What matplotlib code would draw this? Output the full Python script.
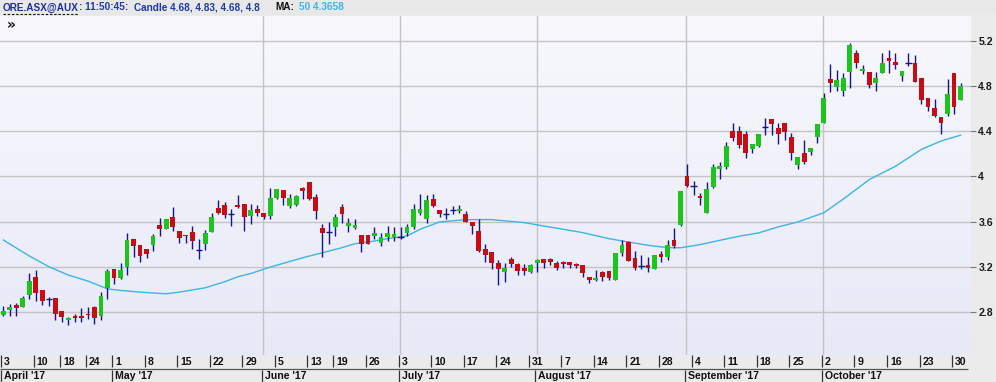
import numpy as np
import matplotlib
matplotlib.use('Agg')
import matplotlib.pyplot as plt
from matplotlib.colors import LinearSegmentedColormap
from matplotlib.lines import Line2D
from matplotlib.patches import Rectangle

# ---------------- data (ORE.ASX daily candles, 3 Apr - 31 Oct 2017) ----------------
opens = [2.770, 2.815, 2.860, 2.847, 2.948, 3.111, 2.990, 2.910, 2.920, 2.810,
         2.726, 2.767, 2.767, 2.780, 2.840, 2.760, 3.013, 3.176, 3.096, 3.200,
         3.443, 3.390, 3.354, 3.393, 3.567, 3.532, 3.641, 3.517, 3.480, 3.510,
         3.345, 3.404, 3.511, 3.720, 3.745, 3.665, 3.745, 3.754, 3.650, 3.710,
         3.680, 3.650, 3.813, 3.878, 3.739, 3.745, 3.896, 3.947, 3.820, 3.547,
         3.508, 3.553, 3.730, 3.561, 3.540, 3.478, 3.478, 3.473, 3.413, 3.466,
         3.464, 3.466, 3.502, 3.556, 3.674, 3.620, 3.804, 3.707, 3.665, 3.704,
         3.692, 3.668, 3.600, 3.517, 3.360, 3.333, 3.236, 3.156, 3.265, 3.221,
         3.191, 3.153, 3.236, 3.265, 3.265, 3.236, 3.244, 3.244, 3.220, 3.212,
         3.108, 3.080, 3.156, 3.162, 3.079, 3.318, 3.419, 3.274, 3.206, 3.212,
         3.182, 3.310, 3.286, 3.434, 3.570, 4.000, 3.914, 3.825, 3.678, 3.905,
         4.068, 4.083, 4.402, 4.402, 4.373, 4.240, 4.270, 4.440, 4.506, 4.432,
         4.470, 4.352, 4.098, 4.204, 4.216, 4.349, 4.476, 4.861, 4.793, 4.757,
         4.926, 5.098, 4.935, 4.929, 4.825, 4.920, 5.047, 5.018, 4.890, 5.003,
         5.003, 4.876, 4.698, 4.609, 4.530, 4.550, 4.916, 4.680]
highs = [2.856, 2.874, 2.880, 2.940, 3.147, 3.167, 2.990, 2.933, 2.920, 2.810,
         2.755, 2.780, 2.836, 2.840, 2.856, 2.975, 3.180, 3.176, 3.235, 3.502,
         3.443, 3.390, 3.354, 3.487, 3.636, 3.627, 3.733, 3.517, 3.480, 3.561,
         3.443, 3.530, 3.680, 3.790, 3.775, 3.716, 3.834, 3.754, 3.754, 3.745,
         3.680, 3.902, 3.893, 3.878, 3.843, 3.834, 3.908, 3.953, 3.843, 3.576,
         3.600, 3.665, 3.754, 3.630, 3.620, 3.478, 3.478, 3.556, 3.502, 3.561,
         3.556, 3.556, 3.576, 3.760, 3.843, 3.837, 3.843, 3.707, 3.720, 3.740,
         3.748, 3.697, 3.600, 3.627, 3.405, 3.333, 3.256, 3.236, 3.286, 3.236,
         3.221, 3.221, 3.265, 3.265, 3.274, 3.250, 3.250, 3.244, 3.230, 3.212,
         3.108, 3.170, 3.162, 3.162, 3.324, 3.437, 3.428, 3.340, 3.300, 3.289,
         3.300, 3.339, 3.434, 3.547, 3.873, 4.107, 3.959, 3.855, 3.950, 4.107,
         4.130, 4.308, 4.476, 4.447, 4.402, 4.290, 4.380, 4.520, 4.506, 4.476,
         4.476, 4.388, 4.172, 4.320, 4.249, 4.467, 4.743, 4.994, 4.940, 4.920,
         5.186, 5.121, 4.988, 4.929, 4.926, 5.098, 5.121, 5.098, 4.935, 5.092,
         5.074, 4.876, 4.698, 4.689, 4.530, 4.862, 4.916, 4.830]
lows = [2.760, 2.767, 2.760, 2.840, 2.918, 2.900, 2.860, 2.850, 2.730, 2.710,
        2.680, 2.710, 2.710, 2.740, 2.696, 2.726, 2.916, 3.043, 3.090, 3.126,
        3.286, 3.244, 3.277, 3.340, 3.473, 3.532, 3.517, 3.413, 3.407, 3.354,
        3.265, 3.345, 3.511, 3.668, 3.636, 3.560, 3.724, 3.517, 3.582, 3.650,
        3.627, 3.627, 3.804, 3.748, 3.724, 3.740, 3.804, 3.793, 3.620, 3.289,
        3.400, 3.473, 3.585, 3.510, 3.538, 3.330, 3.400, 3.443, 3.384, 3.428,
        3.428, 3.443, 3.473, 3.532, 3.656, 3.590, 3.730, 3.644, 3.627, 3.665,
        3.680, 3.600, 3.490, 3.330, 3.241, 3.182, 3.034, 3.064, 3.200, 3.126,
        3.126, 3.141, 3.156, 3.191, 3.212, 3.170, 3.191, 3.191, 3.190, 3.111,
        3.052, 3.073, 3.073, 3.079, 3.079, 3.295, 3.250, 3.170, 3.176, 3.153,
        3.176, 3.241, 3.259, 3.369, 3.561, 3.905, 3.834, 3.750, 3.678, 3.900,
        3.980, 4.068, 4.314, 4.254, 4.166, 4.204, 4.260, 4.364, 4.364, 4.284,
        4.320, 4.145, 4.068, 4.107, 4.189, 4.299, 4.470, 4.749, 4.757, 4.713,
        4.787, 4.964, 4.911, 4.781, 4.757, 4.920, 4.920, 4.956, 4.846, 4.980,
        4.837, 4.639, 4.580, 4.530, 4.373, 4.540, 4.557, 4.680]
closes = [2.812, 2.847, 2.830, 2.924, 3.078, 2.966, 2.895, 2.910, 2.780, 2.755,
          2.750, 2.744, 2.744, 2.770, 2.747, 2.945, 3.158, 3.096, 3.167, 3.434,
          3.384, 3.295, 3.313, 3.473, 3.532, 3.620, 3.553, 3.452, 3.470, 3.428,
          3.345, 3.500, 3.644, 3.674, 3.660, 3.665, 3.730, 3.644, 3.700, 3.674,
          3.644, 3.813, 3.887, 3.813, 3.807, 3.828, 3.873, 3.798, 3.695, 3.496,
          3.508, 3.641, 3.665, 3.585, 3.570, 3.404, 3.404, 3.496, 3.466, 3.502,
          3.487, 3.466, 3.556, 3.716, 3.710, 3.790, 3.739, 3.670, 3.665, 3.704,
          3.716, 3.600, 3.561, 3.339, 3.305, 3.236, 3.182, 3.191, 3.221, 3.162,
          3.162, 3.212, 3.256, 3.236, 3.241, 3.191, 3.227, 3.218, 3.206, 3.147,
          3.080, 3.096, 3.108, 3.096, 3.318, 3.390, 3.250, 3.191, 3.206, 3.191,
          3.300, 3.289, 3.390, 3.384, 3.867, 3.914, 3.914, 3.805, 3.893, 4.083,
          4.092, 4.270, 4.337, 4.278, 4.210, 4.290, 4.373, 4.440, 4.462, 4.373,
          4.393, 4.204, 4.172, 4.127, 4.249, 4.467, 4.698, 4.831, 4.852, 4.870,
          5.163, 5.009, 4.950, 4.810, 4.876, 5.003, 5.024, 4.985, 4.935, 5.003,
          4.837, 4.678, 4.618, 4.536, 4.470, 4.729, 4.620, 4.800]

# 50-period moving average at selected candles
ma_idx = [0, 4, 7, 10, 13, 16, 18, 21, 25, 27, 31, 34, 36, 38, 41, 46, 49, 52,
          54, 57, 59, 62, 64, 67, 70, 72, 75, 76, 80, 83, 86, 89, 93, 96, 99,
          102, 104, 107, 110, 113, 116, 119, 122, 126, 129, 133, 137, 141, 144, 147]
ma_val = [3.437, 3.295, 3.200, 3.126, 3.073, 3.004, 2.990, 2.975, 2.960, 2.975,
          3.013, 3.067, 3.111, 3.140, 3.197, 3.280, 3.324, 3.369, 3.404, 3.428,
          3.449, 3.473, 3.532, 3.597, 3.612, 3.618, 3.618, 3.612, 3.591, 3.561,
          3.532, 3.502, 3.449, 3.419, 3.390, 3.369, 3.368, 3.396, 3.434, 3.470,
          3.500, 3.553, 3.597, 3.678, 3.800, 3.973, 4.090, 4.240, 4.314, 4.366]

# x-axis labels (first trading day of each week / month, as candle index)
week_idx = [0, 5, 9, 13, 17, 22, 27, 32, 37, 42, 47, 51, 56, 61, 66, 71, 76, 81,
            86, 91, 96, 101, 106, 111, 116, 121, 126, 131, 136, 141, 146]
week_lbl = ['3', '10', '18', '24', '1', '8', '15', '22', '29', '5', '13', '19',
            '26', '3', '10', '17', '24', '31', '7', '14', '21', '28', '4', '11',
            '18', '25', '2', '9', '16', '23', '30']
month_idx = [0, 17, 40, 61, 82, 105, 126]
month_lbl = ["April '17", "May '17", "June '17", "July '17", "August '17",
             "September '17", "October '17"]
grid_months = [40, 61, 82, 105, 126]
price_ticks = [2.8, 3.2, 3.6, 4.0, 4.4, 4.8, 5.2]
price_lbls = ['2.8', '3.2', '3.6', '4', '4.4', '4.8', '5.2']

# ---------------- figure ----------------
W, H = 996, 382
FONT = 'Liberation Sans'
fig = plt.figure(figsize=(W / 100, H / 100), dpi=100, facecolor='#ebebeb')

PX0, PX1, PY_TOP, PY_BOT = 0, 970, 16, 355
STEP, C0 = 6.512, 3.3          # pixels per candle, centre of first candle
PPU = 112.5                    # pixels per price unit
xlim = ((PX0 - C0) / STEP, (PX1 - C0) / STEP)
ylim = (2.8 - (PY_BOT - 312) / PPU, 5.2 + (41 - PY_TOP) / PPU)

ax = fig.add_axes([PX0 / W, 1 - PY_BOT / H, (PX1 - PX0) / W, (PY_BOT - PY_TOP) / H])
cmap = LinearSegmentedColormap.from_list('bg', ['#e7e9f7', '#f8f8fd'])
ax.imshow(np.linspace(0, 1, 256).reshape(-1, 1)[::-1], extent=(0, 1, 0, 1),
          transform=ax.transAxes, cmap=cmap, aspect='auto', zorder=0)

for p in price_ticks:
    ax.axhline(p, color='#c4c4c4', lw=1.0, zorder=1)
for m in grid_months:
    ax.axvline(m - 0.12, color='#c4c4c4', lw=1.0, zorder=1)

ax.plot(ma_idx, ma_val, color='#3db5e6', lw=1.0, zorder=2)

O = np.array(opens); Hh = np.array(highs); L = np.array(lows); C = np.array(closes)
x = np.arange(len(O))
ax.vlines(x, L, Hh, color='#15158a', lw=1.0, zorder=3)
doji = np.isclose(O, C)
up = (C > O) & ~doji
dn = (C < O) & ~doji
bw = 0.74
bh = np.maximum(np.abs(C - O), 0.012)
ax.bar(x[up], bh[up], bottom=np.minimum(O, C)[up], width=bw, color='#1ec41e',
       edgecolor='none', zorder=4)
ax.bar(x[dn], bh[dn], bottom=np.minimum(O, C)[dn], width=bw, color='#c80c14',
       edgecolor='none', zorder=4)
ax.hlines(O[doji], x[doji] - 0.48, x[doji] + 0.48, color='#15158a', lw=1.0, zorder=4)

ax.set_xlim(*xlim)
ax.set_ylim(*ylim)
ax.set_xticks([])
ax.yaxis.tick_right()
ax.set_yticks(price_ticks)
ax.set_yticklabels(price_lbls, fontfamily=FONT, fontweight='bold')
ax.tick_params(axis='y', length=4, width=0.8, color='#777777', pad=2,
               labelsize=7.6, labelcolor='#1a1a1a')
for s in ax.spines.values():
    s.set_visible(False)

# ---------------- bottom date band ----------------
ax2 = fig.add_axes([PX0 / W, 0, (PX1 - PX0) / W, (H - PY_BOT) / H])
ax2.set_xlim(*xlim)
ax2.set_ylim(H - PY_BOT, 0)
ax2.axis('off')
ax2.vlines(np.array(week_idx) - 0.3, 0, 12, color='#333333', lw=0.9)
for i, t in zip(week_idx, week_lbl):
    ax2.text(i - 0.3 + 0.45, 7.2, t, va='center', ha='left', fontsize=7.6,
             fontweight='bold', fontfamily=FONT, color='#111111')
ax2.hlines(13.5, xlim[0], (968 - C0) / STEP, color='#555555', lw=0.9)
ax2.vlines(np.array(month_idx) - 0.3, 14.5, H - PY_BOT, color='#333333', lw=0.9)
for i, t in zip(month_idx, month_lbl):
    ax2.text(i - 0.3 + 0.45, 20.8, t, va='center', ha='left', fontsize=7.6,
             fontweight='bold', fontfamily=FONT, color='#111111')

# ---------------- header ----------------
fig.patches.append(Rectangle((0, 1 - 15 / H), 1, 15 / H, transform=fig.transFigure,
                             facecolor='#e8e8e8', edgecolor='none', zorder=0))
renderer = fig.canvas.get_renderer()

def htext(px, s, color, size=7.2):
    t = fig.text(px / W, 1 - 7.5 / H, s, va='center', ha='left', fontsize=size,
                 fontweight='bold', fontfamily=FONT, color=color)
    bb = t.get_window_extent(renderer=renderer)
    return px + bb.width

e1 = htext(3, 'ORE.ASX@AUX', '#1f2f9a')
e2 = htext(e1, ': 11:50:45:', '#1f3aa6')
e3 = htext(max(128, e2 + 6), 'Candle 4.68, 4.83, 4.68, 4.8', '#1f3aa6')
e4 = htext(max(275, e3 + 14), 'MA:', '#111111')
htext(max(298, e4 + 5), '50 4.3658', '#3bb6e8')
fig.add_artist(Line2D([3 / W, e1 / W], [1 - 13.5 / H] * 2, transform=fig.transFigure,
                      ls=(0, (2.2, 1.6)), color='#111111', lw=0.8))
fig.text(7 / W, 1 - 25 / H, '\u00bb', va='center', ha='left', fontsize=10,
         fontweight='bold', fontfamily='DejaVu Sans', color='#111111')

fig.savefig('out.png', dpi=100, facecolor=fig.get_facecolor())
